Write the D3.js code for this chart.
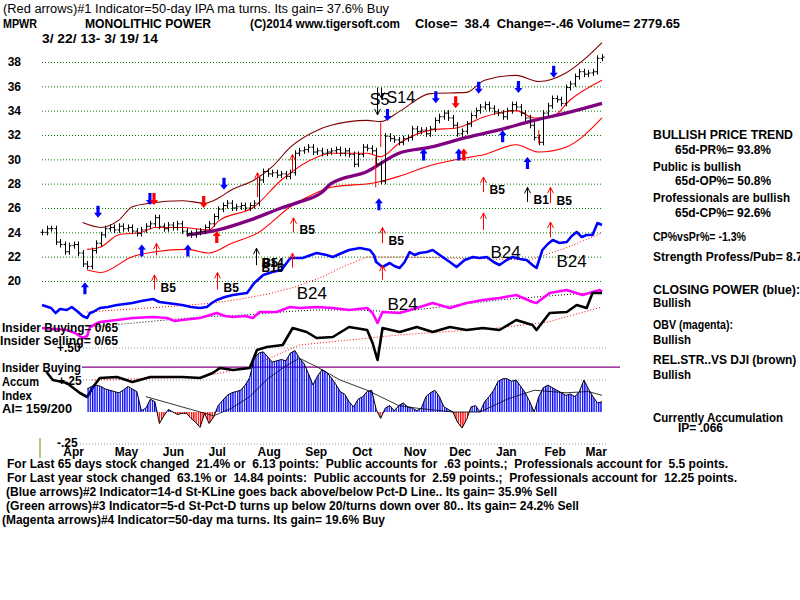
<!DOCTYPE html>
<html>
<head>
<meta charset="utf-8">
<script src="https://cdn.jsdelivr.net/npm/d3@7"></script>
<style>
  body { margin: 0; background: #fff; }
  text { font-family: "Liberation Sans", Arial, sans-serif; white-space: pre; }
</style>
</head>
<body>
<svg id="chart" width="800" height="600"></svg>
<script>
// ---- data (index = 2 trading days, 3/22/13 .. 3/19/14)
var closes = [24.0,24.3,24.3,23.2,23.0,22.4,22.9,23.0,22.3,21.4,
  21.2,22.5,23.1,23.8,24.3,24.4,24.2,24.5,24.3,24.4,
  24.1,23.9,24.2,24.5,24.7,25.2,24.5,24.3,24.6,24.4,
  24.7,24.1,23.9,23.8,24.0,24.1,24.4,24.7,25.3,25.9,
  26.2,26.4,26.0,26.1,26.2,26.0,26.2,26.4,28.3,29.0,
  28.8,28.9,28.7,28.8,28.6,28.9,30.5,30.7,30.8,31.0,
  30.6,30.7,30.5,30.6,30.7,30.8,30.5,30.7,30.4,29.6,
  30.4,31.0,30.9,30.7,29.6,28.2,31.9,31.7,31.6,31.4,
  31.7,31.8,32.5,32.3,32.4,32.1,32.5,33.2,33.5,33.8,
  33.4,32.8,32.1,32.3,32.9,33.6,34.0,34.3,34.5,34.2,
  33.9,33.8,33.5,34.0,34.5,34.3,33.8,33.4,32.8,31.8,
  31.4,33.8,34.4,35.0,34.9,34.6,35.9,36.2,36.8,37.2,
  37.0,37.1,37.2,38.3,38.4];

var priceTicks = [20, 22, 24, 26, 28, 30, 32, 34, 36, 38];
var months = ["Apr","May","Jun","Jul","Aug","Sep","Oct","Nov","Dec","Jan","Feb","Mar"];
var monthPos = [6.9, 18.6, 29, 38.7, 50.2, 60.6, 70.8, 82.5, 92.5, 102.7, 113.5, 122.6];

// bands and 50-day ma  [index, price]
var upperBand = [[9,24.8],[13,24.4],[17,25.0],[20,26.1],[24,26.4],[31,26.6],[36,26.4],[39,26.8],[42,27.5],[47,28.3],[51,29.4],[55,31.0],[61,32.4],[64,32.8],[72,33.2],[75,33.1],[79,33.9],[86,35.4],[94,35.5],[98,36.5],[105,36.9],[110,36.4],[116,37.1],[120,38.2],[124,39.6]];
var midBand = [[10,22.6],[13,22.8],[17,23.8],[22,24.0],[25,24.4],[31,24.4],[37,24.2],[39,24.9],[47,26.1],[53,28.3],[61,30.2],[64,30.5],[72,30.5],[75,30.2],[79,31.3],[86,32.4],[92,32.6],[98,33.5],[105,34.0],[109,33.4],[113,33.5],[117,34.9],[124,36.5]];
var lowerBand = [[10,20.9],[13,20.7],[20,22.0],[25,22.4],[32,22.6],[37,22.3],[42,23.1],[48,24.0],[55,26.1],[61,27.3],[64,27.7],[74,28.1],[79,28.6],[86,29.5],[92,30.0],[98,30.4],[105,31.2],[110,30.6],[116,31.0],[124,33.4]];
var ma50 = [[32,23.8],[39,24.2],[46,25.0],[53,26.0],[57,26.5],[62,27.3],[64,28.0],[72,29.0],[79,30.5],[86,31.0],[94,31.8],[101,32.4],[109,33.2],[116,33.8],[124,34.6]];

// closing power, obv, rel.str  [index, level]
var cpLine = [[0,95],[2,92],[3,87],[4,91],[5.5,90],[6.6,93],[8,88],[9,84],[10,82],[10.6,87],[11.3,88],[12.8,92],[14.6,93],[16.6,95],[18.4,96],[20,97],[22,99],[24.6,101],[26,98],[27.7,97],[29.4,96],[31,95],[33,93],[35,92],[36.5,93],[37.6,97],[38.7,100],[40.5,103],[42.3,105],[43.8,106],[45.4,107],[46.2,112],[47,117],[49,125],[51,128],[53,130],[55,142],[57.7,142],[60.8,147],[63,145],[64.4,143],[66.4,147],[68,150],[70.4,152],[72.6,150],[73.5,145],[74,138],[75.4,133],[77,137],[78,134],[79.2,132],[80.3,138],[81.4,148],[82.5,145],[83.6,147],[85.2,148],[86.5,150],[88.7,143],[90.3,138],[91.8,133],[93.6,140],[95.4,143],[96.9,142],[98.5,143],[100,138],[101.3,135],[102.9,140],[104.2,143],[105.8,141],[107.3,140],[108.6,135],[109.5,132],[110.8,150],[112,156],[113.1,160],[114.6,157],[116.2,158],[117.3,164],[118.4,168],[119.5,163],[120.6,165],[121.9,165],[123,177],[124,175]];
var cpAvg = [[10,88],[20,91],[30,94],[38,97],[44,101],[50,106],[56,113],[62,123],[67,134],[72,143],[80,143],[90,142],[100,141],[108,140],[116,152],[124,167]];
var obvLine = [[0,72],[3,71],[5.5,70],[7.3,67],[9,62],[10,64],[10.6,73],[12.8,78],[16.6,80],[20,82],[24.6,83],[27.7,82],[29.4,79],[31,80],[35,82],[38.7,87],[40.5,84],[42.3,83],[45,84],[46.7,82],[48.2,88],[52,88],[54.9,93],[57,92],[60.8,93],[64.4,92],[68,90],[72,92],[73.2,87],[74.3,77],[75.4,88],[79.2,87],[83,92],[86.5,97],[90.3,92],[94,97],[97.6,100],[101.3,102],[105,105],[108.6,98],[109.5,97],[112.4,107],[116.2,110],[119.7,105],[121.9,108],[123.5,110],[124,108]];
var obvAvg = [[11,73],[25,79],[35,83],[45,85],[53,88],[60,90],[70,90],[79,88],[90,94],[101,100],[112,104],[124,108]];
var rsLine = [[1,28],[2.4,20],[5.5,17],[8.4,7],[10,3],[11.3,13],[12.8,22],[16.6,23],[20,18],[24,23],[27.7,23],[31,23],[35,22],[37.8,27],[39.4,32],[42.3,30],[46,32],[47.6,50],[49.8,53],[53.3,55],[55.5,72],[58.6,68],[60.8,62],[64.4,63],[68,73],[72,70],[73.2,57],[74.3,40],[75.4,72],[79.2,68],[83,73],[86.5,68],[90.3,73],[94,70],[97.6,72],[101.3,70],[105,80],[108.6,75],[109.5,70],[112.4,87],[116.2,88],[118.4,95],[120.6,92],[121.9,107],[124,107]];
var rsAvg = [[11,20],[35,23],[46,33],[52,45],[57,55],[79,65],[101,72],[112,78],[124,93]];

// accumulation index, from index 10
var aiStart = 10;
var aiValues = [0.18,0.20,0.21,0.20,0.18,0.17,0.16,0.15,0.17,0.20,
  0.18,0.16,0.01,0.03,0.10,0.08,-0.09,-0.03,0.02,0.00,
  -0.02,-0.01,-0.01,-0.05,-0.08,-0.12,-0.01,-0.09,-0.04,0.05,
  0.09,0.13,0.15,0.16,0.17,0.21,0.27,0.42,0.46,0.47,
  0.43,0.39,0.40,0.41,0.40,0.46,0.48,0.42,0.38,0.30,
  0.21,0.28,0.33,0.31,0.27,0.22,0.16,0.14,0.08,0.04,
  0.10,0.12,0.16,0.17,0.02,-0.05,0.03,0.05,0.01,0.05,
  0.07,0.04,0.03,0.01,0.03,0.12,0.15,0.17,0.12,0.04,
  0.02,0.00,-0.08,-0.125,-0.06,0.04,0.05,0.00,0.08,0.12,
  0.17,0.24,0.26,0.26,0.24,0.25,0.20,0.15,0.08,0.00,
  0.12,0.19,0.21,0.19,0.17,0.15,0.13,0.14,0.12,0.16,
  0.25,0.18,0.12,0.07,0.08];
var aiAvg = [[23,0.12],[30,0.05],[38,-0.03],[42,0.03],[46,0.12],[50,0.26],[54,0.36],[57,0.42],[61,0.35],[66,0.25],[72,0.17],[79,0.05],[83,0.03],[91,0.0],[97,0.0],[103,0.10],[109,0.17],[116,0.15],[121,0.16],[124,0.13]];
var aiGrid = [0.5, 0.25, -0.25];
var insiderLevel = 0.35;

// signal arrows  [index, price]  and  [index, top, bottom, label]
var blueUp = [[9.5,19.9],[22.1,23.0],[32.3,23.0],[74.6,26.8],[84.5,30.9],[92.3,30.9],[102,32.4],[107.5,30.2]];
var blueDown = [[12.4,25.2],[23.9,26.25],[40.3,27.5],[76.5,33.15],[87.2,34.6],[96.7,35.4],[105.5,35.45],[113.3,36.7]];
var redDown = [[24.8,26.25],[35.8,26.0],[91.6,34.2]];
var redUp = [[38.7,24.1],[93.4,30.9]];
var thinRed = [[25.2,23.1,22.1,""],[24.8,20.5,19.3,"B5"],[38.7,20.7,19.3,"B5"],[47.6,28.9,26.9,""],[55.3,30.4,29.0,""],[55.5,25.2,24.0,"B5"],[55.3,22.3,21.1,""],[75.2,24.4,23.1,"B5"],[75.2,21.3,20.1,""],[97.6,28.55,27.3,"B5"],[97.6,25.6,24.2,""],[112.4,27.7,26.4,"B5"],[112.4,24.85,23.6,""]];
var thinBlackUp = [[47.3,22.7,21.3,"B5"],[107.5,27.7,26.5,"B1"]];
var thinBlackDown = [[74.1,35.9,33.65],[75.1,35.9,35.0]];
var redMarks = [[75,33.0,31.0],[73.9,30.2,27.7],[110,32.4,31.3]];
var b24Labels = [[56.4,101],[76.5,90],[99.3,142],[113.9,133]];

// ---- drawing
var svg = d3.select("#chart");
svg.append("rect").attr("width", 800).attr("height", 600).attr("fill", "#fff");

var x = d3.scaleLinear().domain([0, 124]).range([42, 602]);
var yP = d3.scaleLinear().domain([20, 38]).range([281, 62]);
var yInd = d3.scaleLinear().domain([0, 100]).range([400, 300]);
var yAI = d3.scaleLinear().domain([-0.25, 0.5]).range([444, 348]);

var FONT = '"Liberation Sans", Arial, sans-serif';

// price grid
var grid = svg.append("g").attr("transform", "translate(42,0)")
  .call(d3.axisLeft(yP).tickValues(priceTicks).tickSize(-561).tickFormat(""));
grid.select(".domain").remove();
grid.selectAll("line").attr("stroke", "#008000").attr("stroke-dasharray", "1,2");

var yAx = svg.append("g").attr("transform", "translate(21,0)")
  .call(d3.axisLeft(yP).tickValues(priceTicks).tickSize(0).tickPadding(0));
yAx.select(".domain").remove();
yAx.attr("font-family", FONT).attr("font-size", 12).attr("font-weight", "bold");
yAx.selectAll("text").attr("fill", "#000");

// lower grid
svg.append("g").selectAll("line").data(aiGrid).join("line")
  .attr("x1", 80).attr("x2", 606)
  .attr("y1", function(d) { return yAI(d); }).attr("y2", function(d) { return yAI(d); })
  .attr("stroke", "#999").attr("stroke-dasharray", "1,2");

svg.append("line").attr("x1", 82).attr("x2", 620)
  .attr("y1", yAI(insiderLevel)).attr("y2", yAI(insiderLevel))
  .attr("stroke", "#800080").attr("stroke-width", 1.2);

svg.append("line").attr("x1", 40).attr("x2", 40).attr("y1", 438).attr("y2", 458)
  .attr("stroke", "#808000");

// month axis
var xAx = svg.append("g").attr("transform", "translate(0,445)")
  .call(d3.axisBottom(x).tickValues(monthPos).tickSize(0).tickPadding(2)
    .tickFormat(function(d, i) { return months[i]; }));
xAx.select(".domain").remove();
xAx.attr("font-family", FONT).attr("font-size", 12).attr("font-weight", "bold");
xAx.selectAll("text").attr("fill", "#000");

// bands
var lineP = d3.line().x(function(d) { return x(d[0]); }).y(function(d) { return yP(d[1]); })
  .curve(d3.curveMonotoneX);
svg.append("path").attr("d", lineP(upperBand)).attr("fill", "none").attr("stroke", "#800000").attr("stroke-width", 1.1);
svg.append("path").attr("d", lineP(midBand)).attr("fill", "none").attr("stroke", "#ff0000").attr("stroke-width", 1.1);
svg.append("path").attr("d", lineP(lowerBand)).attr("fill", "none").attr("stroke", "#ff0000").attr("stroke-width", 1.1);
svg.append("path").attr("d", lineP(ma50)).attr("fill", "none").attr("stroke", "#800080").attr("stroke-width", 3.3);

// price bars (previous close -> close)
var bars = svg.append("g").attr("stroke", "#000").attr("stroke-width", 1);
closes.forEach(function(c, i) {
  var p = i > 0 ? closes[i - 1] : c;
  var xi = Math.round(x(i)) + 0.5;
  bars.append("line").attr("x1", xi).attr("x2", xi)
    .attr("y1", yP(Math.max(p, c)) - 3).attr("y2", yP(Math.min(p, c)) + 3);
  bars.append("line").attr("x1", xi - 2).attr("x2", xi).attr("y1", yP(p)).attr("y2", yP(p));
  bars.append("line").attr("x1", xi).attr("x2", xi + 2).attr("y1", yP(c)).attr("y2", yP(c));
});

// indicator lines
var lineI = d3.line().x(function(d) { return x(d[0]); }).y(function(d) { return yInd(d[1]); });
function ind(data, color, w, dash) {
  var p = svg.append("path").attr("d", lineI(data)).attr("fill", "none")
    .attr("stroke", color).attr("stroke-width", w).attr("stroke-linejoin", "round");
  if (dash) p.attr("stroke-dasharray", dash);
}
ind(cpAvg, "#ff0000", 1, "1,2");
ind(obvAvg, "#000", 1, "1,2");
ind(rsAvg, "#ff0000", 1, "1,2");
ind(cpLine, "#0000ff", 2.6);
ind(obvLine, "#ff00ff", 2.6);
ind(rsLine, "#000", 2.6);

// accumulation index histogram
var defs = svg.append("defs");
function hatch(id, color) {
  var pt = defs.append("pattern").attr("id", id).attr("patternUnits", "userSpaceOnUse")
    .attr("width", 2.3).attr("height", 10);
  pt.append("rect").attr("width", 1.3).attr("height", 10).attr("fill", color);
}
hatch("hBlue", "#0000ff");
hatch("hRed", "#ff0000");
defs.append("clipPath").attr("id", "above").append("rect")
  .attr("x", 0).attr("y", 300).attr("width", 800).attr("height", yAI(0) - 300);
defs.append("clipPath").attr("id", "below").append("rect")
  .attr("x", 0).attr("y", yAI(0)).attr("width", 800).attr("height", 60);

var aiData = aiValues.map(function(v, k) { return [aiStart + k, v]; });
var aiArea = d3.area().x(function(d) { return x(d[0]); }).y0(yAI(0)).y1(function(d) { return yAI(d[1]); });
svg.append("path").attr("d", aiArea(aiData)).attr("fill", "url(#hBlue)").attr("clip-path", "url(#above)");
svg.append("path").attr("d", aiArea(aiData)).attr("fill", "url(#hRed)").attr("clip-path", "url(#below)");
var aiLine = d3.line().x(function(d) { return x(d[0]); }).y(function(d) { return yAI(d[1]); });
svg.append("path").attr("d", aiLine(aiData)).attr("fill", "none").attr("stroke", "#000").attr("stroke-width", 1);
svg.append("path").attr("d", aiLine(aiAvg)).attr("fill", "none").attr("stroke", "#000").attr("stroke-width", 0.8);

// arrows
var arrows = svg.append("g");
function blockArrow(d, color, up) {
  var ax = x(d[0]), ay = yP(d[1]), s = up ? 1 : -1;
  var pts = [[0,0],[4,5],[1.6,5],[1.6,12],[-1.6,12],[-1.6,5],[-4,5]];
  arrows.append("path")
    .attr("d", "M" + pts.map(function(p) { return (ax + p[0]) + "," + (ay + s * p[1]); }).join("L") + "Z")
    .attr("fill", color);
}
blueUp.forEach(function(d) { blockArrow(d, "#0000ff", true); });
blueDown.forEach(function(d) { blockArrow(d, "#0000ff", false); });
redDown.forEach(function(d) { blockArrow(d, "#ff0000", false); });
redUp.forEach(function(d) { blockArrow(d, "#ff0000", true); });

function thinArrow(d, color, up) {
  var ax = Math.round(x(d[0])) + 0.5, top = yP(d[1]), bot = yP(d[2]);
  var g = arrows.append("g").attr("stroke", color).attr("fill", "none").attr("stroke-width", 1);
  g.append("line").attr("x1", ax).attr("x2", ax).attr("y1", top).attr("y2", bot);
  var tip = up ? top : bot, s = up ? 1 : -1;
  g.append("polyline").attr("points", (ax - 3) + "," + (tip + s * 6) + " " + ax + "," + tip + " " + (ax + 3) + "," + (tip + s * 6));
  if (d[3]) {
    arrows.append("text").attr("x", ax + 6).attr("y", bot + 2).text(d[3])
      .attr("font-size", 12).attr("font-weight", "bold").attr("fill", "#000");
  }
}
thinRed.forEach(function(d) { thinArrow(d, "#ff0000", true); });
thinBlackUp.forEach(function(d) { thinArrow(d, "#000", true); });
thinBlackDown.forEach(function(d) { thinArrow(d, "#000", false); });
redMarks.forEach(function(d) {
  arrows.append("line").attr("x1", x(d[0])).attr("x2", x(d[0]))
    .attr("y1", yP(d[1])).attr("y2", yP(d[2])).attr("stroke", "#ff0000");
});

// overlapping signal labels at the August breakout (they overprint in the original too)
arrows.append("text").attr("x", x(47.3) + 6).attr("y", yP(21.3) + 2).text("B14")
  .attr("font-size", 12).attr("font-weight", "bold");
arrows.append("text").attr("x", x(47.3) + 6).attr("y", yP(21.3) + 7).text("B16")
  .attr("font-size", 12).attr("font-weight", "bold");
arrows.append("text").attr("x", x(72.6)).attr("y", yP(34.47)).text("S5").attr("font-size", 16);
arrows.append("text").attr("x", x(76.3)).attr("y", yP(34.63)).text("S14").attr("font-size", 16);

svg.append("g").selectAll("text").data(b24Labels).join("text")
  .attr("x", function(d) { return x(d[0]); }).attr("y", function(d) { return yInd(d[1]); })
  .attr("font-size", 17).text("B24");

// ---- texts
function txt(x0, y0, s, opt) {
  opt = opt || {};
  var t = svg.append("text").attr("x", x0).attr("y", y0).text(s)
    .attr("font-size", opt.size || 12).attr("font-weight", opt.weight || "bold").attr("fill", "#000");
  if (opt.w) t.attr("textLength", opt.w).attr("lengthAdjust", "spacingAndGlyphs");
  return t;
}
txt(3, 13, "(Red arrows)#1 Indicator=50-day IPA ma turns. Its gain= 37.6% Buy", {w: 386, weight: "normal"});
txt(3, 28, "MPWR", {w: 34});
txt(85, 28, "MONOLITHIC POWER", {w: 126});
txt(250, 28, "(C)2014 www.tigersoft.com", {w: 150});
txt(415, 28, "Close=  38.4  Change=-.46 Volume= 2779.65", {w: 265});
txt(42, 43, "3/ 22/ 13- 3/ 19/ 14", {w: 116});

txt(653, 139, "BULLISH PRICE TREND", {w: 140});
txt(675, 154, "65d-PR%= 93.8%", {w: 96});
txt(653, 171, "Public is bullish", {w: 88});
txt(675, 185, "65d-OP%= 50.8%", {w: 96});
txt(653, 202, "Professionals are bullish", {w: 137});
txt(675, 217, "65d-CP%= 92.6%", {w: 96});
txt(653, 241, "CP%vsPr%= -1.3%", {w: 93});
txt(653, 261, "Strength Profess/Pub= 8.7");
txt(653, 294, "CLOSING POWER (blue):", {w: 147});
txt(653, 307, "Bullish", {w: 38});
txt(653, 329, "OBV (magenta):", {w: 80});
txt(653, 344, "Bullish", {w: 38});
txt(653, 364, "REL.STR..VS DJI (brown)");
txt(653, 379, "Bullish", {w: 38});
txt(653, 422, "Currently Accumulation", {w: 130});
txt(678, 432, "IP= .066");

txt(2, 332, "Insider Buying= 0/65", {w: 116});
txt(0, 345, "Insider Selling= 0/65", {w: 118});
txt(57, yAI(0.5) + 4, "+.50");
txt(2, 372, "Insider Buying", {w: 79});
txt(2, 386, "Accum", {w: 37});
txt(58, yAI(0.25) + 5, "+.25");
txt(2, 400, "Index", {w: 30});
txt(2, 413, "AI= 159/200", {w: 70});
txt(57, yAI(-0.25) + 3, "-.25");

txt(7, 468, "For Last 65 days stock changed  21.4% or  6.13 points:  Public accounts for  .63 points.;  Professionals account for  5.5 points.", {w: 721});
txt(7, 482, "For Last year stock changed  63.1% or  14.84 points:  Public accounts for  2.59 points.;  Professionals account for  12.25 points.", {w: 730});
txt(6, 496, "(Blue arrows)#2 Indicator=14-d St-KLine goes back above/below Pct-D Line.. Its gain= 35.9% Sell", {w: 551});
txt(6, 510, "(Green arrows)#3 Indicator=5-d St-Pct-D turns up below 20/turns down over 80.. Its gain= 24.2% Sell", {w: 573});
txt(2, 524, "(Magenta arrows)#4 Indicator=50-day ma turns. Its gain= 19.6% Buy", {w: 383});
</script>
</body>
</html>
